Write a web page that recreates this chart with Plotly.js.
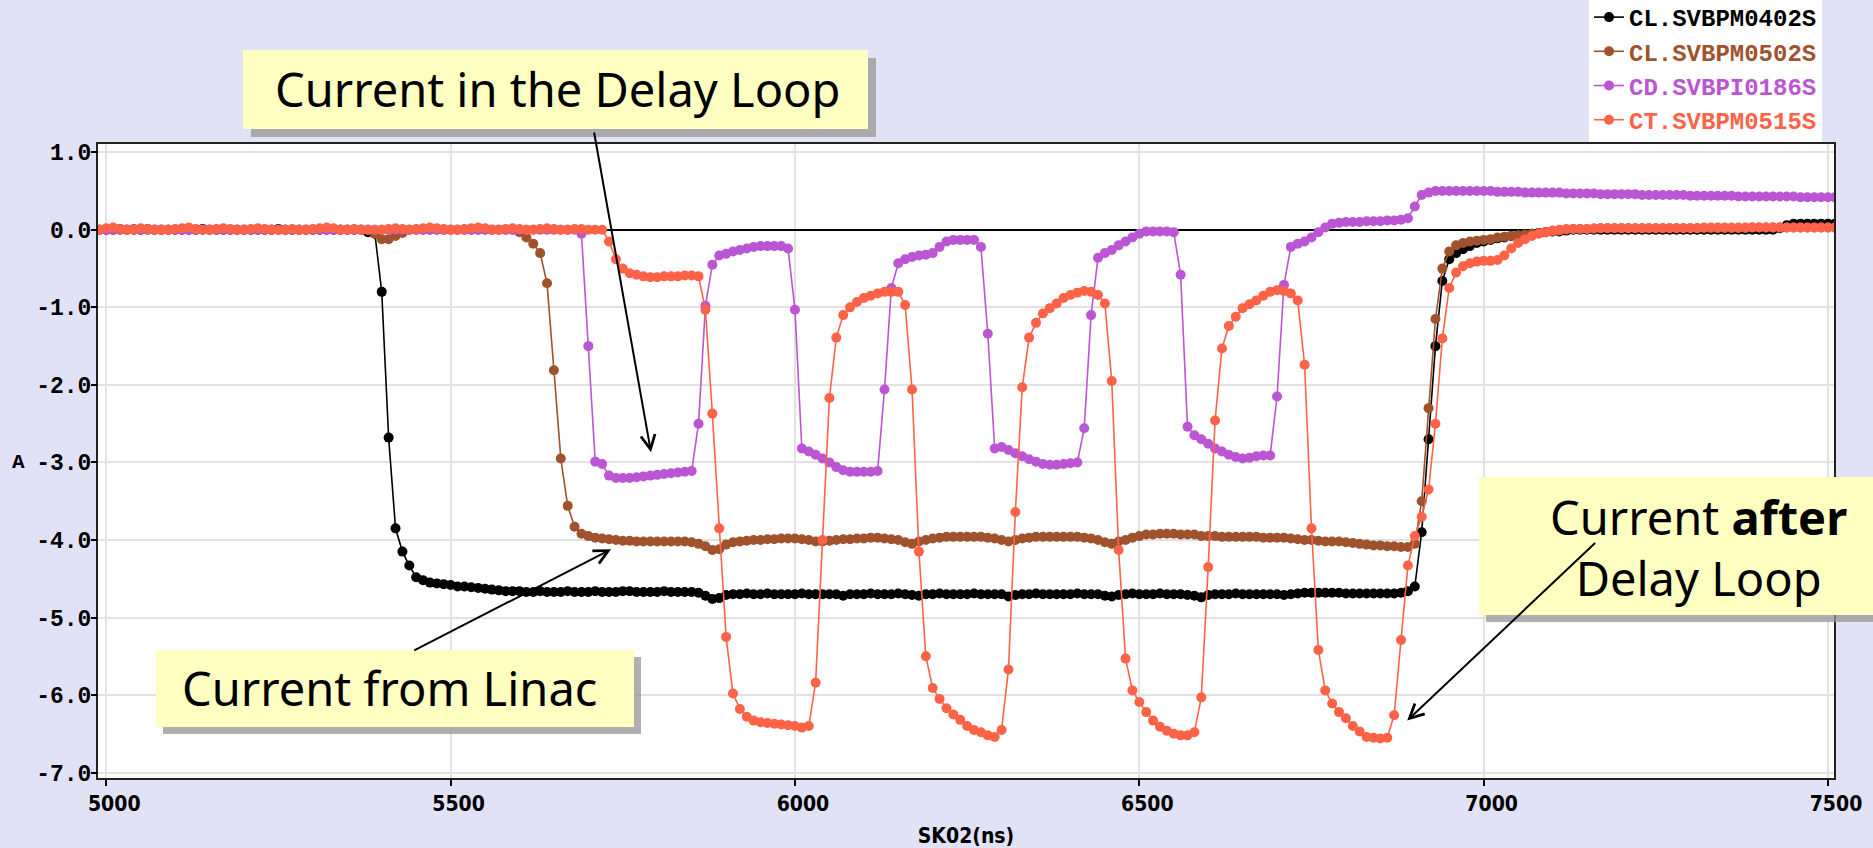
<!DOCTYPE html>
<html><head><meta charset="utf-8">
<script src="https://cdn.plot.ly/plotly-3.0.1.min.js"></script>
<style>html,body{margin:0;padding:0;background:rgb(226,226,246);overflow:hidden}#chart{width:1873px;height:848px}</style>
</head><body><div id="chart"></div>
<script>
// sample times (ns)
const timeNs = [
4990,5000,5010,5020,5030,5040,5050,5060,5070,5080,
5090,5100,5110,5120,5130,5140,5150,5160,5170,5180,
5190,5200,5210,5220,5230,5240,5250,5260,5270,5280,
5290,5300,5310,5320,5330,5340,5350,5360,5370,5380,
5390,5400,5410,5420,5430,5440,5450,5460,5470,5480,
5490,5500,5510,5520,5530,5540,5550,5560,5570,5580,
5590,5600,5610,5620,5630,5640,5650,5660,5670,5680,
5690,5700,5710,5720,5730,5740,5750,5760,5770,5780,
5790,5800,5810,5820,5830,5840,5850,5860,5870,5880,
5890,5900,5910,5920,5930,5940,5950,5960,5970,5980,
5990,6000,6010,6020,6030,6040,6050,6060,6070,6080,
6090,6100,6110,6120,6130,6140,6150,6160,6170,6180,
6190,6200,6210,6220,6230,6240,6250,6260,6270,6280,
6290,6300,6310,6320,6330,6340,6350,6360,6370,6380,
6390,6400,6410,6420,6430,6440,6450,6460,6470,6480,
6490,6500,6510,6520,6530,6540,6550,6560,6570,6580,
6590,6600,6610,6620,6630,6640,6650,6660,6670,6680,
6690,6700,6710,6720,6730,6740,6750,6760,6770,6780,
6790,6800,6810,6820,6830,6840,6850,6860,6870,6880,
6890,6900,6910,6920,6930,6940,6950,6960,6970,6980,
6990,7000,7010,7020,7030,7040,7050,7060,7070,7080,
7090,7100,7110,7120,7130,7140,7150,7160,7170,7180,
7190,7200,7210,7220,7230,7240,7250,7260,7270,7280,
7290,7300,7310,7320,7330,7340,7350,7360,7370,7380,
7390,7400,7410,7420,7430,7440,7450,7460,7470,7480,
7490,7500,7510];

// CL.SVBPM0402S (A)
const cl0402 = [
0,0,0,0.01,0,0,0,0.01,0,0,
0,0,0,0,0,0.01,0,0,0,0,
0,0,0,0,0,0,0.01,0,0,0,
0,0,0,0,0,0,0,0,0,-0.03,
-0.05,-0.8,-2.68,-3.85,-4.15,-4.33,-4.48,-4.52,-4.55,-4.56,
-4.57,-4.58,-4.6,-4.6,-4.61,-4.62,-4.63,-4.64,-4.65,-4.66,
-4.66,-4.66,-4.67,-4.67,-4.66,-4.67,-4.67,-4.67,-4.66,-4.67,
-4.67,-4.67,-4.66,-4.67,-4.67,-4.67,-4.66,-4.66,-4.67,-4.67,
-4.67,-4.67,-4.66,-4.67,-4.67,-4.67,-4.67,-4.68,-4.72,-4.76,
-4.75,-4.71,-4.7,-4.7,-4.69,-4.7,-4.7,-4.69,-4.7,-4.7,
-4.7,-4.7,-4.69,-4.7,-4.7,-4.7,-4.7,-4.7,-4.72,-4.7,
-4.7,-4.7,-4.69,-4.7,-4.7,-4.7,-4.69,-4.7,-4.71,-4.72,
-4.7,-4.7,-4.69,-4.7,-4.7,-4.7,-4.7,-4.69,-4.7,-4.7,
-4.7,-4.7,-4.73,-4.71,-4.7,-4.7,-4.69,-4.7,-4.7,-4.7,
-4.7,-4.7,-4.69,-4.7,-4.7,-4.7,-4.72,-4.73,-4.71,-4.7,
-4.69,-4.7,-4.7,-4.7,-4.69,-4.7,-4.7,-4.7,-4.71,-4.72,
-4.74,-4.71,-4.7,-4.7,-4.7,-4.69,-4.7,-4.7,-4.7,-4.7,
-4.7,-4.7,-4.71,-4.7,-4.69,-4.68,-4.68,-4.68,-4.68,-4.68,
-4.68,-4.69,-4.69,-4.69,-4.69,-4.69,-4.69,-4.69,-4.69,-4.68,
-4.66,-4.6,-3.9,-2.7,-1.5,-0.66,-0.38,-0.3,-0.25,-0.21,
-0.17,-0.15,-0.13,-0.11,-0.1,-0.08,-0.07,-0.06,-0.05,-0.04,
-0.03,-0.02,-0.02,-0.01,0,0,0,0,0,0,
0,0,0,0,0,0,0,0,0,0,
0,0,0,0,0,0,0,0,0,0,
0,0,0,0,0.02,0.06,0.08,0.08,0.08,0.08,
0.08,0.08,0.08];

// CL.SVBPM0502S (A)
const cl0502 = [
0,0,0,0,0,0.01,0,0,0,0,
0,0,0,0,0,0,0,0,0,0,
0,0,0,0,0,0,0,0,0,0,
0,0,0,0,0,0,0,0,0,0,
-0.05,-0.12,-0.12,-0.08,-0.04,0,0,0,0,0,
0,0,0,0,0,0,0,0,0,0,
0,-0.03,-0.1,-0.18,-0.3,-0.69,-1.81,-2.95,-3.56,-3.83,
-3.92,-3.95,-3.97,-3.98,-3.99,-4.0,-4.01,-4.01,-4.02,-4.02,
-4.02,-4.02,-4.02,-4.02,-4.02,-4.02,-4.03,-4.05,-4.08,-4.13,
-4.12,-4.06,-4.03,-4.02,-4.01,-4.0,-4.0,-3.99,-3.99,-3.98,
-3.98,-3.98,-3.99,-4.0,-4.02,-4.02,-4.01,-4.0,-3.99,-3.99,
-3.98,-3.98,-3.97,-3.97,-3.98,-3.99,-4.0,-4.03,-4.05,-4.02,
-4.0,-3.98,-3.97,-3.96,-3.96,-3.96,-3.96,-3.96,-3.96,-3.97,
-3.98,-4.0,-4.02,-4.0,-3.98,-3.97,-3.96,-3.96,-3.96,-3.96,
-3.96,-3.96,-3.96,-3.97,-3.98,-4.0,-4.03,-4.05,-4.02,-4.0,
-3.97,-3.95,-3.93,-3.93,-3.92,-3.92,-3.92,-3.93,-3.93,-3.93,
-3.95,-3.95,-3.95,-3.96,-3.96,-3.96,-3.96,-3.96,-3.96,-3.97,
-3.97,-3.97,-3.97,-3.98,-3.99,-4.0,-4.0,-4.01,-4.02,-4.02,
-4.02,-4.03,-4.04,-4.05,-4.06,-4.07,-4.07,-4.08,-4.08,-4.09,
-4.09,-4.05,-3.5,-2.3,-1.15,-0.5,-0.28,-0.2,-0.17,-0.15,
-0.14,-0.13,-0.12,-0.1,-0.09,-0.08,-0.07,-0.06,-0.05,-0.04,
-0.03,-0.02,-0.01,0,0.01,0.01,0.01,0.01,0.02,0.02,
0.02,0.02,0.02,0.02,0.02,0.02,0.02,0.02,0.02,0.02,
0.02,0.02,0.02,0.02,0.02,0.02,0.02,0.02,0.02,0.02,
0.03,0.03,0.03,0.03,0.03,0.03,0.03,0.03,0.03,0.03,
0.03,0.03,0.03];

// CD.SVBPI0186S (A)
const cd0186 = [
0,0,0,0,0,0,0,0,0,0,
0,0,0,0,0,0,0,0,0,0,
0,0,0,0,0,0,0,0,0,0,
0,0,0,0,0,0,0,0,0,0,
0,0,0,0,0,0,0,0,0,0,
0,0,0,0,0,0,0,0,0,0,
0,0,0,0,0,0,0,0,0,0,
-0.05,-1.5,-2.99,-3.02,-3.17,-3.2,-3.2,-3.2,-3.19,-3.18,
-3.17,-3.16,-3.15,-3.14,-3.13,-3.12,-3.11,-2.5,-0.98,-0.45,
-0.33,-0.31,-0.28,-0.26,-0.24,-0.22,-0.21,-0.21,-0.21,-0.21,
-0.24,-1.03,-2.82,-2.86,-2.9,-2.95,-3.0,-3.06,-3.1,-3.12,
-3.12,-3.12,-3.12,-3.11,-2.06,-0.75,-0.43,-0.38,-0.35,-0.33,
-0.32,-0.3,-0.22,-0.15,-0.13,-0.13,-0.13,-0.13,-0.22,-1.34,
-2.82,-2.8,-2.84,-2.88,-2.92,-2.96,-2.99,-3.02,-3.03,-3.03,
-3.02,-3.01,-3.0,-2.56,-1.1,-0.36,-0.3,-0.26,-0.2,-0.15,
-0.1,-0.05,-0.02,-0.02,-0.02,-0.02,-0.03,-0.58,-2.54,-2.65,
-2.7,-2.76,-2.82,-2.86,-2.9,-2.93,-2.95,-2.94,-2.92,-2.91,
-2.91,-2.15,-0.71,-0.22,-0.18,-0.15,-0.1,-0.03,0.03,0.08,
0.09,0.1,0.1,0.1,0.11,0.11,0.11,0.12,0.12,0.13,
0.15,0.3,0.45,0.48,0.5,0.5,0.5,0.5,0.5,0.5,
0.5,0.5,0.5,0.49,0.49,0.49,0.49,0.48,0.48,0.48,
0.48,0.48,0.48,0.47,0.47,0.47,0.47,0.47,0.46,0.46,
0.46,0.46,0.46,0.46,0.45,0.45,0.45,0.45,0.45,0.45,
0.45,0.44,0.44,0.44,0.44,0.44,0.44,0.44,0.43,0.43,
0.43,0.43,0.43,0.43,0.43,0.43,0.43,0.42,0.42,0.42,
0.42,0.42,0.42];

// CT.SVBPM0515S (A)
const ct0515 = [
0,0.02,0.03,0.01,0,0,0.02,0.01,0,0,
0,0.01,0.02,0.03,0.01,0,0,0.01,0.02,0.01,
0,0,0.01,0.02,0.01,0,0,0,0.01,0,
0,0.01,0.02,0.03,0.02,0,0,0.01,0,0,
0,0,0.01,0.02,0.01,0,0.01,0.02,0.03,0.02,
0.01,0,0,0.01,0.02,0.03,0.02,0,0,0.01,
0.02,0.01,0,0,0.01,0.02,0.01,0,0,0.01,
0.01,0,0,0,-0.15,-0.38,-0.5,-0.56,-0.58,-0.6,
-0.61,-0.61,-0.6,-0.6,-0.6,-0.59,-0.59,-0.6,-1.03,-2.37,
-3.85,-5.25,-5.98,-6.18,-6.28,-6.33,-6.35,-6.36,-6.37,-6.38,
-6.39,-6.4,-6.42,-6.4,-5.84,-4.0,-2.17,-1.39,-1.1,-1.0,
-0.93,-0.88,-0.85,-0.82,-0.8,-0.8,-0.8,-0.97,-2.06,-4.15,
-5.5,-5.91,-6.05,-6.17,-6.25,-6.32,-6.4,-6.45,-6.48,-6.52,
-6.54,-6.45,-5.67,-3.64,-2.03,-1.39,-1.2,-1.08,-1.01,-0.95,
-0.88,-0.84,-0.81,-0.79,-0.8,-0.84,-0.95,-1.95,-4.13,-5.53,
-5.94,-6.09,-6.22,-6.33,-6.41,-6.46,-6.5,-6.52,-6.52,-6.48,
-6.03,-4.35,-2.46,-1.53,-1.24,-1.12,-1.01,-0.96,-0.91,-0.85,
-0.8,-0.78,-0.79,-0.82,-0.91,-1.74,-3.85,-5.42,-5.94,-6.11,
-6.22,-6.3,-6.4,-6.47,-6.54,-6.55,-6.56,-6.55,-6.26,-5.29,
-4.33,-3.95,-3.7,-3.35,-2.5,-1.4,-0.75,-0.55,-0.47,-0.43,
-0.41,-0.4,-0.4,-0.39,-0.33,-0.24,-0.17,-0.12,-0.08,-0.05,
-0.03,-0.01,0,0.01,0.01,0.01,0.01,0.02,0.02,0.02,
0.02,0.02,0.02,0.02,0.02,0.02,0.02,0.02,0.02,0.02,
0.02,0.02,0.02,0.03,0.03,0.03,0.03,0.03,0.03,0.03,
0.03,0.03,0.03,0.03,0.03,0.03,0.03,0.03,0.03,0.03,
0.03,0.03,0.03];

const seriesNames = ['CL.SVBPM0402S','CL.SVBPM0502S','CD.SVBPI0186S','CT.SVBPM0515S'];
const seriesValues = [cl0402, cl0502, cd0186, ct0515];
const seriesColors = ['#000000','#A0522D','#BA55D3','#FF6347'];

const xTickVals = [5000,5500,6000,6500,7000,7500];
const yTickVals = [1,0,-1,-2,-3,-4,-5,-6,-7];
const yTickText = ['1.0','0.0','-1.0','-2.0','-3.0','-4.0','-5.0','-6.0','-7.0'];

// layout geometry (pixels)
const W = 1873, H = 848;
const M = {l: 98, r: 39, t: 144, b: 70, autoexpand: false};
const PW = W - M.l - M.r, PH = H - M.t - M.b;
const px = v => (v - M.l) / PW;
const py = v => (H - M.b - v) / PH;
const xRange = [4988, 7508.7], yRange = [-7.07, 1.107];

const traces = seriesNames.map((n, i) => ({
  type: 'scatter', mode: 'lines+markers',
  x: timeNs, y: seriesValues[i],
  name: '<span style="color:' + seriesColors[i] + '">' + n + '</span>',
  legendgroup: n,
  line: {color: seriesColors[i], width: 1.6},
  marker: {color: seriesColors[i], size: 10},
  hoverinfo: 'x+y'
}));
// empty trace that only carries the tick-mark axis
traces.push({type: 'scatter', x: [], y: [], yaxis: 'y2', showlegend: false, hoverinfo: 'skip'});

const boxFill = '#FFFFC2', shadowFill = 'rgba(150,150,150,0.75)';
function box(x0, y0, x1, y1, off) {
  return [
    {type: 'rect', xref: 'paper', yref: 'paper', layer: 'above',
     x0: px(x0 + off), x1: px(x1 + off), y0: py(y1 + off), y1: py(y0 + off),
     fillcolor: shadowFill, line: {width: 0}},
    {type: 'rect', xref: 'paper', yref: 'paper', layer: 'above',
     x0: px(x0), x1: px(x1), y0: py(y1), y1: py(y0),
     fillcolor: boxFill, line: {width: 0}}
  ];
}
const shapes = [].concat(
  box(243, 50, 868, 129, 8),
  box(156, 650, 634, 727, 7),
  box(1479, 477, 1900, 615, 7)
);

const noteFont = {family: 'Noto Sans, DejaVu Sans, sans-serif', size: 47, color: '#000'};
const arrowStyle = {text: '', showarrow: true, arrowhead: 5, arrowsize: 1.4, arrowwidth: 2,
  arrowcolor: '#000', xref: 'x', yref: 'y', axref: 'x', ayref: 'y', standoff: 0};
const annotations = [
  Object.assign({}, arrowStyle, {x: 5791, y: -2.87, ax: 5708, ay: 1.275}),
  Object.assign({}, arrowStyle, {x: 5733, y: -4.12, ax: 5445, ay: -5.435}),
  Object.assign({}, arrowStyle, {x: 6889, y: -6.33, ax: 7164, ay: -4.02}),
  {text: 'Current in the Delay Loop', xref: 'paper', yref: 'paper', x: px(557), y: py(89),
   xanchor: 'center', yanchor: 'middle', showarrow: false, font: noteFont},
  {text: 'Current from Linac', xref: 'paper', yref: 'paper', x: px(389), y: py(688),
   xanchor: 'center', yanchor: 'middle', showarrow: false, font: noteFont},
  {text: 'Current <b>after</b><br>Delay Loop', xref: 'paper', yref: 'paper', x: px(1698), y: py(547),
   xanchor: 'center', yanchor: 'middle', showarrow: false, align: 'center', font: noteFont},
  {text: 'A', xref: 'paper', yref: 'y', x: px(18), y: -3, xanchor: 'center', yanchor: 'middle',
   showarrow: false, font: {family: 'Liberation Mono, monospace', size: 21, color: '#000', weight: 'bold'}}
];

const tickFontX = {family: 'DejaVu Sans Condensed, Liberation Sans Narrow, sans-serif', size: 21, color: '#000', weight: 'bold'};
const layout = {
  width: W, height: H, margin: M,
  paper_bgcolor: 'rgb(226,226,246)', plot_bgcolor: '#ffffff',
  showlegend: true,
  legend: {x: px(1589), y: py(-5), xanchor: 'left', yanchor: 'top', bgcolor: '#ffffff',
    borderwidth: 0, tracegroupgap: 0, itemwidth: 30,
    font: {family: 'Liberation Mono, monospace', size: 24, weight: 'bold'}},
  xaxis: {range: xRange, tickvals: xTickVals, ticks: 'outside', ticklen: 6, tickwidth: 1.5,
    tickcolor: '#000', showline: true, linecolor: '#222', linewidth: 2, mirror: true,
    showgrid: true, gridcolor: '#e2e2e2', gridwidth: 2, zeroline: false,
    ticklabelshift: 8, automargin: false,
    tickfont: tickFontX,
    title: {text: 'SK02(ns)', font: tickFontX, standoff: 14}},
  yaxis: {range: yRange, tickvals: yTickVals, ticktext: yTickText, ticks: '',
    showline: true, linecolor: '#222', linewidth: 2, mirror: true,
    showgrid: true, gridcolor: '#e2e2e2', gridwidth: 2, automargin: false,
    zeroline: true, zerolinecolor: '#000', zerolinewidth: 1.5,
    tickfont: {family: 'Liberation Mono, monospace', size: 23, color: '#000', weight: 'bold'}},
  yaxis2: {range: yRange, overlaying: 'y', side: 'left', anchor: 'x', tickvals: yTickVals,
    ticks: 'outside', ticklen: 6, tickwidth: 1.5, tickcolor: '#000', showticklabels: false,
    showgrid: false, zeroline: false, showline: false, automargin: false},
  shapes: shapes,
  annotations: annotations
};

Plotly.newPlot('chart', traces, layout, {displayModeBar: false, responsive: false});
</script></body></html>
